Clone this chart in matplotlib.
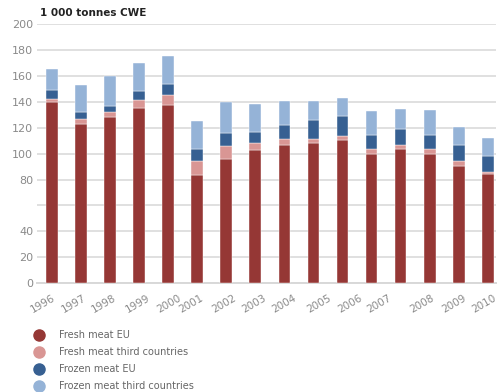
import numpy as np
import matplotlib
matplotlib.use("Agg")
import matplotlib.pyplot as plt
from matplotlib.lines import Line2D

# stack tops (1 000 tonnes CWE), one per bar
top_fresh_eu = [139.7, 123.2, 128.3, 135.3, 137.4, 83.7, 95.9, 102.8,
                106.5, 108.0, 110.8, 99.5, 103.8, 99.5, 90.5, 84.0]
top_fresh_3rd = [142.5, 126.8, 132.2, 141.2, 145.6, 94.3, 105.7, 108.5,
                 111.6, 111.6, 113.9, 103.8, 106.4, 103.8, 94.3, 85.6]
top_frozen_eu = [149.4, 132.2, 136.6, 148.7, 153.8, 103.8, 115.7, 117.0,
                 122.1, 126.0, 129.1, 114.7, 119.1, 114.7, 106.4, 98.4]
top_frozen_3rd = [165.7, 153.1, 159.8, 169.8, 175.7, 125.0, 139.7, 138.6,
                  140.5, 140.5, 143.3, 132.7, 134.3, 133.5, 120.6, 112.3]

years = ["1996", "1997", "1998", "1999", "2000", "2001", "2002", "2003",
         "2004", "2005", "2006", "2007", "2008", "2009", "2010"]
# the year labels in the source don't line up with the bars
year_pos = [0.0, 1.08, 2.09, 3.26, 4.33, 5.1, 6.24, 7.27, 8.3, 9.51,
            10.58, 11.57, 13.06, 14.15, 15.18]

yticks = [0, 20, 40, 60, 80, 100, 120, 140, 160, 180, 200]
ytick_labels = ["0", "20", "40", "", "80", "100", "120", "140", "160", "180", "200"]

names = ["Fresh meat EU", "Fresh meat third countries",
         "Frozen meat EU", "Frozen meat third countries"]
colors = ["#953735", "#d99694", "#376092", "#95b3d7"]

tops = np.array([top_fresh_eu, top_fresh_3rd, top_frozen_eu, top_frozen_3rd])
segs = np.diff(np.vstack([np.zeros(tops.shape[1]), tops]), axis=0)

fig = plt.figure(figsize=(5.02, 3.92), dpi=100)
ax = fig.add_axes([0.0743, 0.278, 0.9137, 0.66])

x = np.arange(tops.shape[1])
bottom = np.zeros(len(x))
for k in range(4):
    ax.bar(x, segs[k], 0.4, bottom=bottom, color=colors[k],
           edgecolor="white", linewidth=0.3, zorder=3)
    bottom += segs[k]

ax.set_xlim(-0.5, 15.28)
ax.set_ylim(0, 200)
ax.set_yticks(yticks)
ax.set_yticklabels(ytick_labels)
ax.yaxis.grid(True, color="#e0e0e0", linewidth=1.4, zorder=0)
ax.set_axisbelow(True)
for s in ["top", "right", "left"]:
    ax.spines[s].set_visible(False)
ax.spines["bottom"].set_color("#d8d8d8")
ax.spines["bottom"].set_linewidth(1.4)

ax.set_xticks(year_pos)
ax.set_xticklabels(years, rotation=30, ha="right", rotation_mode="anchor")
ax.tick_params(axis="x", length=0, pad=7, labelsize=7.5, labelcolor="#8a8a8a")
ax.tick_params(axis="y", length=0, pad=3, labelsize=8, labelcolor="#8a8a8a")

fig.text(0.08, 0.955, "1 000 tonnes CWE", fontsize=7.5, fontweight="bold",
         color="#222222", va="bottom")

handles = [Line2D([], [], marker="o", linestyle="", markersize=8,
                  markerfacecolor=c, markeredgecolor=c) for c in colors]
fig.legend(handles, names, loc="upper left", bbox_to_anchor=(0.05, 0.167),
           frameon=False, fontsize=7, labelcolor="#666666",
           handletextpad=1.1, labelspacing=0.72, borderaxespad=0)

fig.savefig("out.png", dpi=100)
